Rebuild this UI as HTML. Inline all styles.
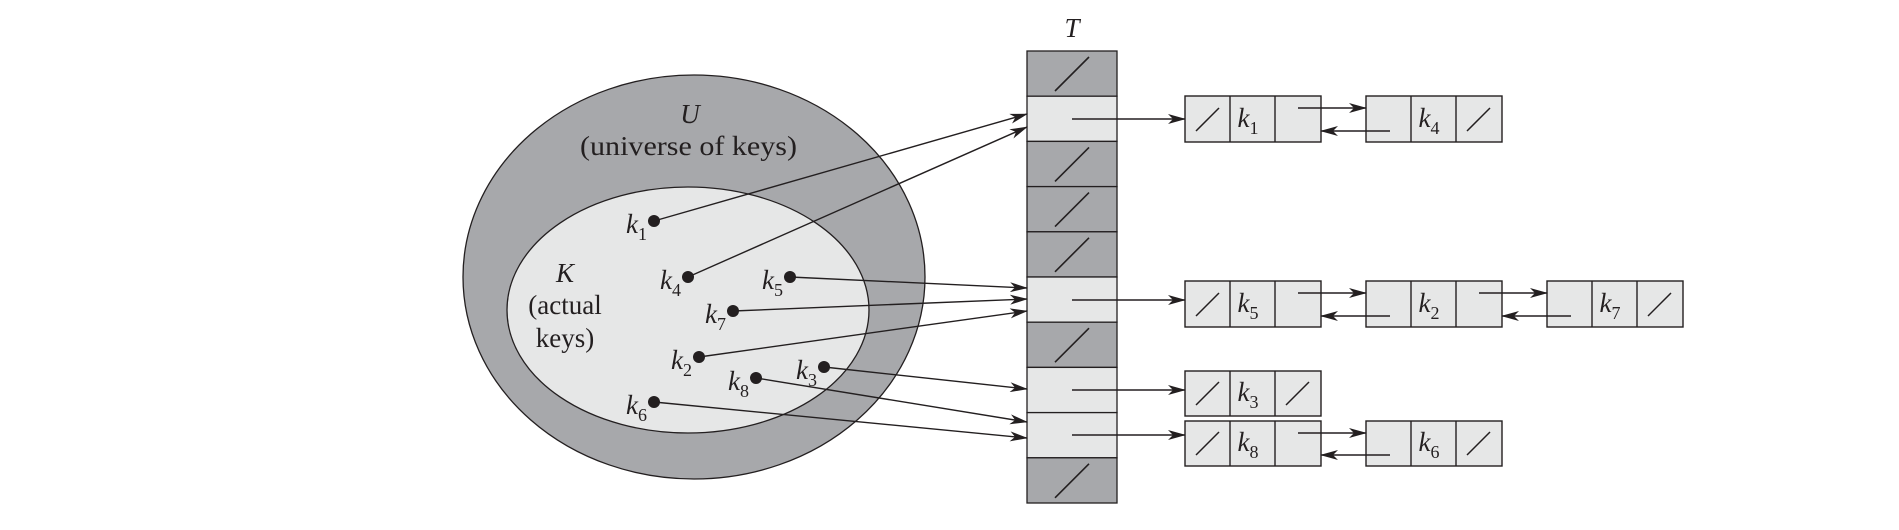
<!DOCTYPE html>
<html><head><meta charset="utf-8"><style>
html,body{margin:0;padding:0;background:#fff;}
svg{display:block;}
text{font-family:"Liberation Serif",serif;fill:#231f20;}
</style></head><body>
<svg width="1899" height="530" viewBox="0 0 1899 530" xmlns="http://www.w3.org/2000/svg">
<defs>
<marker id="a" markerWidth="18" markerHeight="10" refX="17" refY="5" orient="auto" markerUnits="userSpaceOnUse">
<path d="M0,0 L18,5 L0,10 L5,5 Z" fill="#231f20"/>
</marker>
</defs>
<!-- ellipses -->
<ellipse cx="694" cy="277" rx="231" ry="202" fill="#a7a8ab" stroke="#231f20" stroke-width="1.3"/>
<ellipse cx="688" cy="310" rx="181" ry="123" fill="#e6e7e7" stroke="#231f20" stroke-width="1.3"/>
<text x="690" y="123" font-size="27" font-style="italic" text-anchor="middle">U</text>
<text x="580" y="155" font-size="27" textLength="217" lengthAdjust="spacingAndGlyphs">(universe of keys)</text>
<text x="565" y="282" font-size="27" font-style="italic" text-anchor="middle">K</text>
<text x="565" y="314" font-size="27" text-anchor="middle">(actual</text>
<text x="565" y="347" font-size="27" text-anchor="middle">keys)</text>

<!-- table -->
<g stroke="#231f20" stroke-width="1.3">
<rect x="1027" y="51" width="90" height="45.2" fill="#a7a8ab"/>
<rect x="1027" y="96.2" width="90" height="45.2" fill="#e6e7e7"/>
<rect x="1027" y="141.4" width="90" height="45.2" fill="#a7a8ab"/>
<rect x="1027" y="186.6" width="90" height="45.2" fill="#a7a8ab"/>
<rect x="1027" y="231.8" width="90" height="45.2" fill="#a7a8ab"/>
<rect x="1027" y="277" width="90" height="45.2" fill="#e6e7e7"/>
<rect x="1027" y="322.2" width="90" height="45.2" fill="#a7a8ab"/>
<rect x="1027" y="367.4" width="90" height="45.2" fill="#e6e7e7"/>
<rect x="1027" y="412.6" width="90" height="45.2" fill="#e6e7e7"/>
<rect x="1027" y="457.8" width="90" height="45.2" fill="#a7a8ab"/>
</g>
<g stroke="#231f20" stroke-width="1.6">
<line x1="1055" y1="91" x2="1089" y2="57"/>
<line x1="1055" y1="181.4" x2="1089" y2="147.4"/>
<line x1="1055" y1="226.6" x2="1089" y2="192.6"/>
<line x1="1055" y1="271.8" x2="1089" y2="237.8"/>
<line x1="1055" y1="362.2" x2="1089" y2="328.2"/>
<line x1="1055" y1="497.8" x2="1089" y2="463.8"/>
</g>
<text x="1072" y="37" font-size="27" font-style="italic" text-anchor="middle">T</text>

<!-- key dots and arrows -->
<g stroke="#231f20" stroke-width="1.4" fill="none" marker-end="url(#a)">
<line x1="654" y1="221" x2="1027" y2="114"/>
<line x1="688" y1="277" x2="1027" y2="127"/>
<line x1="790" y1="277" x2="1027" y2="288"/>
<line x1="733" y1="311" x2="1027" y2="299"/>
<line x1="699" y1="357" x2="1027" y2="311"/>
<line x1="824" y1="367" x2="1027" y2="389"/>
<line x1="756" y1="378" x2="1027" y2="422"/>
<line x1="654" y1="402" x2="1027" y2="438"/>
</g>
<g fill="#231f20">
<circle cx="654" cy="221" r="6"/><circle cx="688" cy="277" r="6"/><circle cx="790" cy="277" r="6"/>
<circle cx="733" cy="311" r="6"/><circle cx="699" cy="357" r="6"/><circle cx="824" cy="367" r="6"/>
<circle cx="756" cy="378" r="6"/><circle cx="654" cy="402" r="6"/>
</g>
<g font-size="27" font-style="italic" text-anchor="end">
<text x="647" y="233">k<tspan font-size="18" font-style="normal" dy="7">1</tspan></text>
<text x="681" y="289">k<tspan font-size="18" font-style="normal" dy="7">4</tspan></text>
<text x="783" y="289">k<tspan font-size="18" font-style="normal" dy="7">5</tspan></text>
<text x="726" y="323">k<tspan font-size="18" font-style="normal" dy="7">7</tspan></text>
<text x="692" y="369">k<tspan font-size="18" font-style="normal" dy="7">2</tspan></text>
<text x="817" y="379">k<tspan font-size="18" font-style="normal" dy="7">3</tspan></text>
<text x="749" y="390">k<tspan font-size="18" font-style="normal" dy="7">8</tspan></text>
<text x="647" y="414">k<tspan font-size="18" font-style="normal" dy="7">6</tspan></text>
</g>

<!-- table to lists -->
<g stroke="#231f20" stroke-width="1.4" marker-end="url(#a)">
<line x1="1072" y1="119" x2="1185" y2="119"/>
<line x1="1072" y1="300" x2="1185" y2="300"/>
<line x1="1072" y1="390" x2="1185" y2="390"/>
<line x1="1072" y1="435" x2="1185" y2="435"/>
</g>

<!-- list nodes -->
<g stroke="#231f20" stroke-width="1.4" fill="#e6e7e7">
<rect x="1185" y="96" width="136" height="46"/><line x1="1230" y1="96" x2="1230" y2="142"/><line x1="1275" y1="96" x2="1275" y2="142"/>
<rect x="1366" y="96" width="136" height="46"/><line x1="1411" y1="96" x2="1411" y2="142"/><line x1="1456" y1="96" x2="1456" y2="142"/>
<rect x="1185" y="281" width="136" height="46"/><line x1="1230" y1="281" x2="1230" y2="327"/><line x1="1275" y1="281" x2="1275" y2="327"/>
<rect x="1366" y="281" width="136" height="46"/><line x1="1411" y1="281" x2="1411" y2="327"/><line x1="1456" y1="281" x2="1456" y2="327"/>
<rect x="1547" y="281" width="136" height="46"/><line x1="1592" y1="281" x2="1592" y2="327"/><line x1="1637" y1="281" x2="1637" y2="327"/>
<rect x="1185" y="371" width="136" height="45"/><line x1="1230" y1="371" x2="1230" y2="416"/><line x1="1275" y1="371" x2="1275" y2="416"/>
<rect x="1185" y="421" width="136" height="45"/><line x1="1230" y1="421" x2="1230" y2="466"/><line x1="1275" y1="421" x2="1275" y2="466"/>
<rect x="1366" y="421" width="136" height="45"/><line x1="1411" y1="421" x2="1411" y2="466"/><line x1="1456" y1="421" x2="1456" y2="466"/>
</g>
<g stroke="#231f20" stroke-width="1.5">
<line x1="1196" y1="131" x2="1219" y2="108"/>
<line x1="1467" y1="131" x2="1490" y2="108"/>
<line x1="1196" y1="316" x2="1219" y2="293"/>
<line x1="1648" y1="316" x2="1671" y2="293"/>
<line x1="1196" y1="405" x2="1219" y2="382"/>
<line x1="1286" y1="405" x2="1309" y2="382"/>
<line x1="1196" y1="455" x2="1219" y2="432"/>
<line x1="1467" y1="455" x2="1490" y2="432"/>
</g>
<g font-size="27" font-style="italic" text-anchor="middle">
<text x="1248" y="127">k<tspan font-size="18" font-style="normal" dy="7">1</tspan></text>
<text x="1429" y="127">k<tspan font-size="18" font-style="normal" dy="7">4</tspan></text>
<text x="1248" y="312">k<tspan font-size="18" font-style="normal" dy="7">5</tspan></text>
<text x="1429" y="312">k<tspan font-size="18" font-style="normal" dy="7">2</tspan></text>
<text x="1610" y="312">k<tspan font-size="18" font-style="normal" dy="7">7</tspan></text>
<text x="1248" y="401">k<tspan font-size="18" font-style="normal" dy="7">3</tspan></text>
<text x="1248" y="451">k<tspan font-size="18" font-style="normal" dy="7">8</tspan></text>
<text x="1429" y="451">k<tspan font-size="18" font-style="normal" dy="7">6</tspan></text>
</g>
<g stroke="#231f20" stroke-width="1.4" marker-end="url(#a)">
<line x1="1298" y1="108" x2="1366" y2="108"/>
<line x1="1390" y1="131" x2="1321" y2="131"/>
<line x1="1298" y1="293" x2="1366" y2="293"/>
<line x1="1390" y1="316" x2="1321" y2="316"/>
<line x1="1479" y1="293" x2="1547" y2="293"/>
<line x1="1571" y1="316" x2="1502" y2="316"/>
<line x1="1298" y1="433" x2="1366" y2="433"/>
<line x1="1390" y1="455" x2="1321" y2="455"/>
</g>
</svg>
</body></html>
